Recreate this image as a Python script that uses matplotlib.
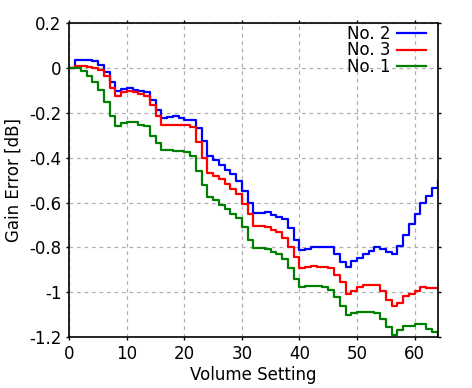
import matplotlib
matplotlib.use("Agg")
import matplotlib.pyplot as plt
import numpy as np

# volume settings 0..64, gain error in dB per unit
volume = np.arange(0, 65)

no2 = [0.0, 0.037, 0.037, 0.037, 0.03, 0.015, -0.019, -0.064, -0.104, -0.093,
       -0.088, -0.096, -0.1, -0.108, -0.144, -0.188, -0.222, -0.218, -0.215, -0.222,
       -0.232, -0.232, -0.267, -0.326, -0.393, -0.41, -0.43, -0.455, -0.474, -0.504,
       -0.548, -0.6, -0.648, -0.645, -0.642, -0.655, -0.664, -0.671, -0.711, -0.766,
       -0.81, -0.805, -0.796, -0.799, -0.799, -0.8, -0.83, -0.864, -0.886, -0.86,
       -0.845, -0.83, -0.815, -0.8, -0.807, -0.82, -0.83, -0.793, -0.745, -0.696,
       -0.649, -0.6, -0.57, -0.533, -0.504]

no3 = [0.0, 0.01, 0.01, 0.004, 0.0, -0.008, -0.037, -0.09, -0.126, -0.108,
       -0.1, -0.108, -0.114, -0.126, -0.163, -0.215, -0.252, -0.252, -0.252, -0.252,
       -0.252, -0.264, -0.33, -0.403, -0.467, -0.482, -0.496, -0.519, -0.537, -0.56,
       -0.605, -0.649, -0.704, -0.705, -0.707, -0.722, -0.733, -0.759, -0.797, -0.842,
       -0.892, -0.885, -0.882, -0.885, -0.889, -0.893, -0.921, -0.956, -1.008, -0.996,
       -0.975, -0.968, -0.968, -0.968, -0.993, -1.034, -1.062, -1.048, -1.018, -1.008,
       -0.993, -0.978, -0.98, -0.98, -0.98]

no1 = [0.0, 0.0, -0.015, -0.034, -0.064, -0.096, -0.153, -0.215, -0.256, -0.244,
       -0.242, -0.242, -0.255, -0.26, -0.301, -0.336, -0.366, -0.363, -0.368, -0.368,
       -0.375, -0.39, -0.46, -0.523, -0.575, -0.588, -0.61, -0.63, -0.649, -0.67,
       -0.708, -0.766, -0.803, -0.803, -0.808, -0.822, -0.83, -0.852, -0.892, -0.941,
       -0.978, -0.97, -0.97, -0.972, -0.975, -0.988, -1.019, -1.062, -1.099, -1.093,
       -1.086, -1.086, -1.086, -1.093, -1.12, -1.156, -1.19, -1.17, -1.148, -1.15,
       -1.141, -1.141, -1.163, -1.178, -1.19]

series = [("No. 2", no2, "#0000ff"), ("No. 3", no3, "#ff0000"), ("No. 1", no1, "#008000")]

xticks = [0, 10, 20, 30, 40, 50, 60]
yticks = [0.2, 0, -0.2, -0.4, -0.6, -0.8, -1, -1.2]
ytick_labels = ["0.2", "0", "-0.2", "-0.4", "-0.6", "-0.8", "-1", "-1.2"]

plt.rcParams["font.family"] = "DejaVu Sans"
plt.rcParams["font.size"] = 12

fig = plt.figure(figsize=(4.72, 3.88), dpi=100)
ax = fig.add_axes([0.147, 0.131, 0.78, 0.809])

for name, vals, col in series:
    ax.step(volume, vals, where="post", color=col, lw=1.6, label=name)

ax.set_xlim(0, 64)
ax.set_ylim(-1.2, 0.2)
ax.set_xticks(xticks)
ax.set_yticks(yticks)
ax.set_yticklabels(ytick_labels)
ax.tick_params(direction="out", length=2.5, width=1, top=True, right=True, pad=3)
ax.grid(True, color="#b0b0b0", linestyle=(0, (3, 3)), lw=0.9)
for sp in ax.spines.values():
    sp.set_linewidth(1.2)

ax.set_xlabel("Volume Setting", labelpad=2)
ax.set_ylabel("Gain Error [dB]", labelpad=5)

ax.legend(loc="upper right", frameon=False, markerfirst=False, handlelength=1.7,
          handletextpad=0.4, labelspacing=-0.1, borderaxespad=0.0,
          borderpad=0.0, bbox_to_anchor=(0.968, 0.994))

fig.savefig("out.png", dpi=100)
